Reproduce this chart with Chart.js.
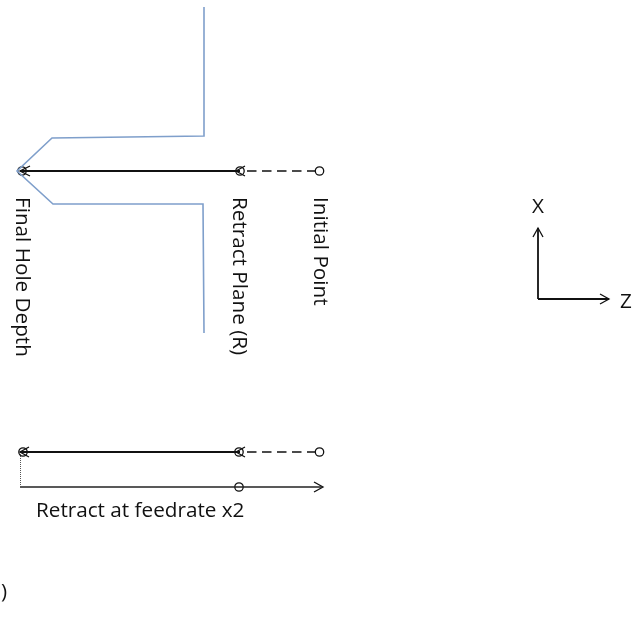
<!DOCTYPE html>
<html>
<head>
<meta charset="utf-8">
<style>
  html, body { margin: 0; padding: 0; background: #fff; }
  canvas { display: block; }
</style>
<script src="https://cdn.jsdelivr.net/npm/chart.js@4/dist/chart.umd.min.js"></script>
</head>
<body>
<canvas id="drill" width="636" height="630"></canvas>
<script>
// drawing units are the picture's own pixels, y runs downwards
const holeOutline = [[204,7],[204,136],[52,138],[17,171],[53,204],[203,204],[204,333]];

const feedTop = [[240,171],[20,171]];
const rapidTop = [[247,171],[315,171]];
const feedBottom = [[240,452],[20,452]];
const rapidBottom = [[247,452],[315,452]];
const dwell = [[20.5,452],[20.5,487]];
const retract = [[20,487],[323,487]];
const axisX = [[538,299],[538,228]];
const axisZ = [[538,299],[609,299]];

const heads = [
  [[30,166],[20,171],[30,176]],
  [[245,166],[236,171],[245,176]],
  [[29,447],[20,452],[29,457]],
  [[245,447],[236,452],[245,457]],
  [[314,482],[323,487],[314,492]],
  [[533,237],[538,228],[543,237]],
  [[600,294],[609,299],[600,304]]
];

const openCircles = [[22,171],[240,171],[23,452],[239,452]];
const whiteCircles = [[319.5,171],[319.5,452],[239,487]];

const labels = [
  { text: 'Final Hole Depth', at: [13,197], turned: true },
  { text: 'Retract Plane (R)', at: [230,197], turned: true },
  { text: 'Initial Point', at: [311,197], turned: true },
  { text: 'Retract at feedrate x2', at: [36,511], turned: false },
  { text: 'X', at: [532,207], turned: false },
  { text: 'Z', at: [620,302], turned: false },
  { text: ')', at: [1,592], turned: false }
];

const pts = arr => arr.map(p => ({ x: p[0], y: p[1] }));

function line(arr, color, width, dash) {
  return {
    data: pts(arr), showLine: true, pointRadius: 0,
    borderColor: color, borderWidth: width, borderDash: dash || [], fill: false
  };
}

function dots(arr, fillColor) {
  return {
    data: pts(arr), showLine: false, pointStyle: 'circle', pointRadius: 4.2,
    pointBorderWidth: 1.3, pointBorderColor: '#111', pointBackgroundColor: fillColor
  };
}

const textPlugin = {
  id: 'textPlugin',
  afterDatasetsDraw(chart) {
    const ctx = chart.ctx;
    const sx = chart.scales.x, sy = chart.scales.y;
    ctx.save();
    ctx.fillStyle = '#111';
    ctx.font = '20.7px "Open Sans"';
    ctx.textBaseline = 'middle';
    labels.forEach(l => {
      const px = sx.getPixelForValue(l.at[0]), py = sy.getPixelForValue(l.at[1]);
      ctx.save();
      if (l.turned) {
        ctx.translate(px + 9, py);
        ctx.rotate(Math.PI / 2);
      } else {
        ctx.translate(px, py);
      }
      ctx.fillText(l.text, 0, 0);
      ctx.restore();
    });
    ctx.restore();
  }
};

new Chart(document.getElementById('drill'), {
  type: 'scatter',
  data: {
    datasets: [
      line(holeOutline, '#7f9fcb', 1.6),
      line(feedTop, '#111', 1.8),
      line(rapidTop, '#111', 1.5, [9.5, 5.5]),
      line(feedBottom, '#111', 1.8),
      line(rapidBottom, '#111', 1.5, [9.5, 5.5]),
      line(dwell, '#555', 1, [1, 1]),
      line(retract, '#222', 1.5),
      line(axisX, '#111', 1.8),
      line(axisZ, '#111', 1.8),
      ...heads.map(h => line(h, '#111', 1.3)),
      dots(openCircles, 'rgba(0,0,0,0)'),
      dots(whiteCircles, '#fff')
    ]
  },
  options: {
    responsive: false,
    animation: false,
    layout: { padding: 0, autoPadding: false },
    plugins: { legend: { display: false }, tooltip: { enabled: false } },
    scales: {
      x: { type: 'linear', display: false, min: 0, max: 636 },
      y: { type: 'linear', display: false, min: 0, max: 630, reverse: true }
    }
  },
  plugins: [textPlugin]
});
</script>
</body>
</html>
